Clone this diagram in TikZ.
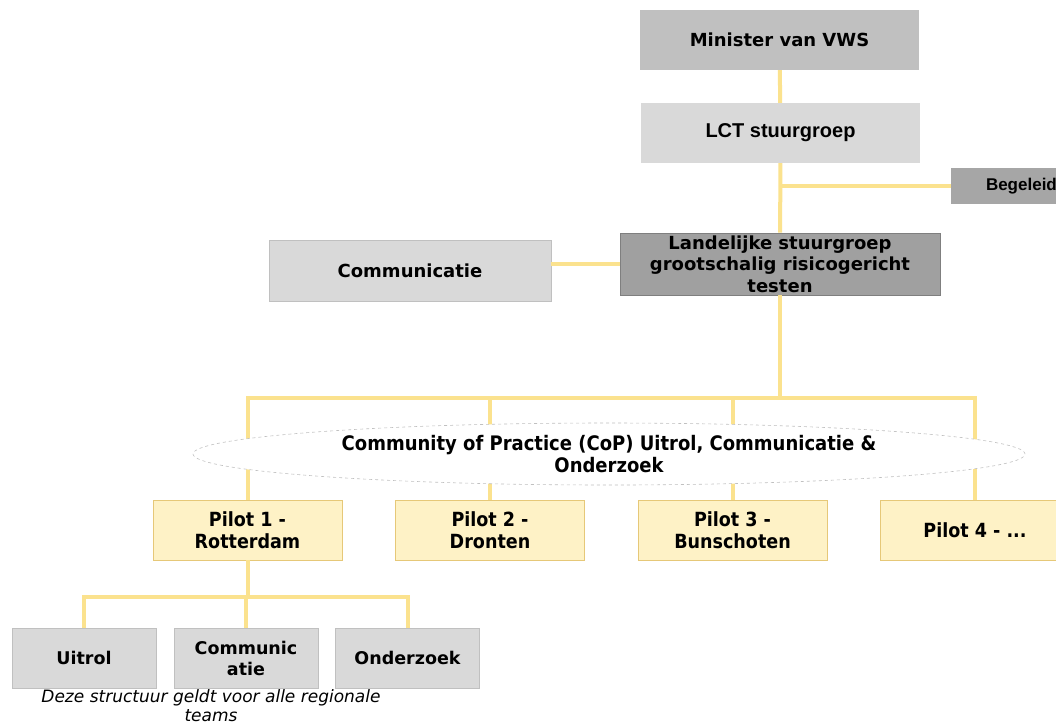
\documentclass[tikz,border=0pt]{standalone}
\usepackage{fontspec}
\setmainfont{DejaVu Sans}
\newfontfamily\condfont{DejaVu Sans Condensed}
\newfontfamily\arialfont{Liberation Sans}
\usetikzlibrary{shapes.geometric, positioning}
\definecolor{linkyellow}{RGB}{251,226,142}
\definecolor{pilotfill}{RGB}{254,242,198}
\definecolor{pilotline}{RGB}{230,200,120}
\definecolor{greyA}{RGB}{192,192,192}
\definecolor{greyB}{RGB}{217,217,217}
\definecolor{greyC}{RGB}{166,166,166}
\definecolor{greyD}{RGB}{160,160,160}
\definecolor{greyE}{RGB}{127,127,127}

\begin{document}
\begin{tikzpicture}[x=1pt,y=-1pt,
  box/.style={rectangle, inner sep=0pt, align=center, font=\bfseries\fontsize{18}{21}\selectfont},
  lightbox/.style={box, fill=greyB, draw=greyA, line width=0.8pt},
  pilotbox/.style={box, fill=pilotfill, draw=pilotline, line width=0.8pt, minimum width=189pt, minimum height=60pt, font=\condfont\bfseries\fontsize{19.5}{22}\selectfont},
  teambox/.style={lightbox, minimum width=144pt, minimum height=60pt, font=\bfseries\fontsize{17.5}{21}\selectfont},
  link/.style={draw=linkyellow, line width=4pt}]
\path[use as bounding box, clip] (0,0) rectangle (1056,724);
\fill[white] (0,0) rectangle (1056,724);
% top of the structure
\node[box, fill=greyA, minimum width=279pt, minimum height=60pt] (min) at (779.5,40) {Minister van VWS};
\node[box, fill=greyB, minimum width=279pt, minimum height=60pt, font=\arialfont\bfseries\fontsize{20}{22}\selectfont] (lct) at (780.5,133) {LCT stuurgroep};
\node[box, fill=greyC, minimum width=120pt, minimum height=36pt, text width=110pt, align=left, font=\arialfont\bfseries\fontsize{17}{19}\selectfont] (beg) at (1011,186) {\hspace*{30pt}Begeleid};
\node[box, fill=greyD, draw=greyE, line width=0.8pt, minimum width=320pt, minimum height=62pt, font=\bfseries\fontsize{18}{21.5}\selectfont] (lsg) at (780,264) {Landelijke stuurgroep\\grootschalig risicogericht\\testen};
\node[lightbox, minimum width=282pt, minimum height=61pt] (com) at (410,270.5) {Communicatie};
\draw[link] (min) -- (lct);
\draw[link] (lct) -- (lsg);
\draw[link] (beg.west) -- (beg.west -| lct.south);
\draw[link] (com.east |- lsg.west) -- (lsg.west);
% pilots
\node[pilotbox] (p1) at (247.5,530) {Pilot 1 -\\Rotterdam};
\node[pilotbox] (p2) at (490,530) {Pilot 2 -\\Dronten};
\node[pilotbox] (p3) at (732.5,530) {Pilot 3 -\\Bunschoten};
\node[pilotbox] (p4) at (975,530) {Pilot 4 - ...};
\coordinate (bus) at (780,398);
\draw[link] (lsg) -- (bus);
\draw[link] (p1.north) -- (p1.north |- bus) -- (p4.north |- bus) -- (p4.north);
\draw[link] (p2.north) -- (p2.north |- bus);
\draw[link] (p3.north) -- (p3.north |- bus);
\node[ellipse, draw=greyA, dashed, line width=0.6pt, fill=white, minimum width=832pt, minimum height=62pt, inner sep=0pt, align=center, font=\condfont\bfseries\fontsize{20}{22}\selectfont] (cop) at (609,454) {Community of Practice (CoP) Uitrol, Communicatie \&\\Onderzoek};
% regional teams
\node[teambox] (uit) at (84,658) {Uitrol};
\node[teambox] (tcom) at (246,658) {Communic\\atie};
\node[teambox] (ond) at (407.5,658) {Onderzoek};
\coordinate (tbus) at (247.5,597);
\draw[link] (p1.south) -- (tbus);
\draw[link] (uit.north) -- (uit.north |- tbus) -- (ond.north |- tbus) -- (ond.north);
\draw[link] (tcom.north) -- (tcom.north |- tbus);
\node[align=center, inner sep=0pt, font=\itshape\fontsize{17}{19}\selectfont] (note) at (211,706) {Deze structuur geldt voor alle regionale\\teams};
\end{tikzpicture}
\end{document}
